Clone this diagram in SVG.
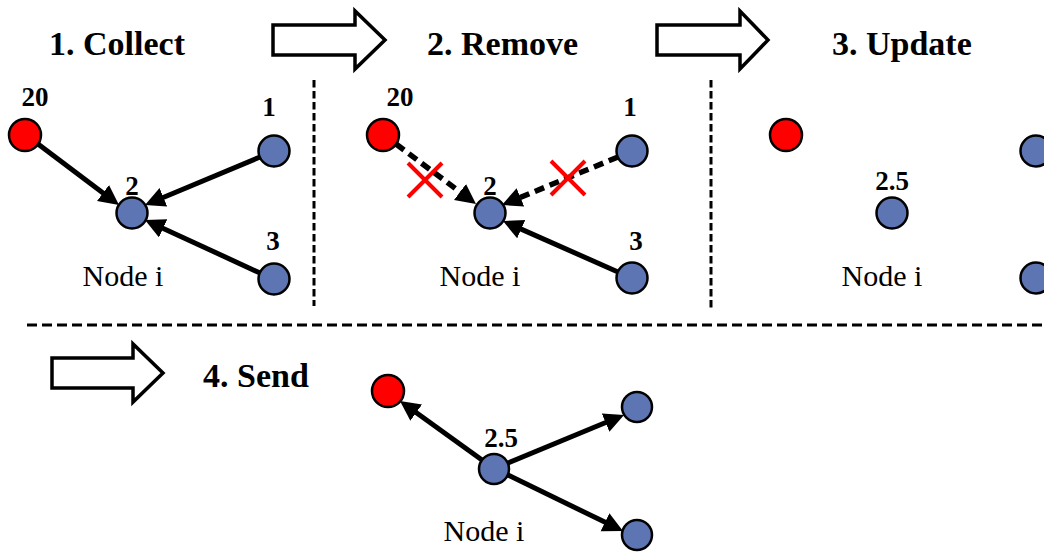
<svg xmlns="http://www.w3.org/2000/svg" width="1044" height="552" viewBox="0 0 1044 552">
  <style>
    text { font-family: "Liberation Serif", "Tinos", "Times New Roman", "DejaVu Serif", serif; fill: #000; }
    .title { font-size: 34px; font-weight: bold; }
    .num { font-size: 27px; font-weight: bold; text-anchor: middle; }
    .cap { font-size: 30px; text-anchor: middle; }
    .red { fill: #FF0000; stroke: #000; stroke-width: 2.5; }
    .blue { fill: #5E75B3; stroke: #000; stroke-width: 2.5; }
    .edge { stroke: #000; stroke-width: 5; fill: none; marker-end: url(#head); }
    .edge.dash { stroke-width: 5.5; stroke-dasharray: 10 6; }
    .sep { stroke: #000; stroke-width: 3; fill: none; }
    .block { fill: #fff; stroke: #000; stroke-width: 3.5; stroke-linejoin: miter; }
    .cross { stroke: #FF0000; stroke-width: 4; fill: none; }
  </style>
  <defs>
    <marker id="head" markerUnits="userSpaceOnUse" markerWidth="22" markerHeight="22" refX="10" refY="10" orient="auto">
      <path d="M0,0 L20,10 L0,20 z" fill="#000"/>
    </marker>
  </defs>

  <rect width="1044" height="552" fill="#fff"/>

  <!-- section separators -->
  <g id="separators">
    <line class="sep" x1="314" y1="80" x2="314" y2="306" stroke-dasharray="7.5 3.5"/>
    <line class="sep" x1="711" y1="80" x2="711" y2="308" stroke-dasharray="7.5 3.5"/>
    <line class="sep" x1="27" y1="325" x2="1044" y2="325" stroke-width="3.5" stroke-dasharray="10 5"/>
  </g>

  <!-- step arrows -->
  <g id="step-arrows">
    <polygon class="block" points="273,25 355,25 355,11 385,40 355,69 355,55 273,55"/>
    <polygon class="block" points="657,25 740,25 740,11 768,40 740,69 740,55 657,55"/>
    <polygon class="block" points="52,358 133,358 133,344 163,373 133,402 133,388 52,388"/>
  </g>

  <!-- step titles -->
  <g id="titles">
    <text class="title" x="49" y="55">1. Collect</text>
    <text class="title" x="427" y="55">2. Remove</text>
    <text class="title" x="832" y="55">3. Update</text>
    <text class="title" x="203" y="387">4. Send</text>
  </g>

  <!-- connectors -->
  <g id="connectors">
    <!-- collect -->
    <line class="edge" x1="38" y1="144" x2="111" y2="199"/>
    <line class="edge" x1="260" y1="157" x2="154.2" y2="201.2"/>
    <line class="edge" x1="260" y1="273" x2="154.1" y2="224.2"/>
    <!-- remove -->
    <line class="edge dash" x1="396" y1="144" x2="468" y2="198"/>
    <line class="edge dash" x1="618" y1="157" x2="511.2" y2="201.2"/>
    <line class="edge" x1="618" y1="272" x2="512.1" y2="225.1"/>
    <!-- send -->
    <line class="edge" x1="482" y1="460" x2="408.1" y2="406.8"/>
    <line class="edge" x1="508" y1="463" x2="614.8" y2="418.8"/>
    <line class="edge" x1="508" y1="475" x2="614" y2="526.6"/>
  </g>

  <!-- removed-edge marks -->
  <g id="crosses">
    <path class="cross" d="M408,163 L442,197 M442,163 L408,197"/>
    <path class="cross" d="M551,161 L585,195 M585,161 L551,195"/>
  </g>

  <!-- step 1 nodes -->
  <g id="c-n20"><circle class="red" cx="25" cy="135" r="16"/><text class="num" x="35" y="106">20</text></g>
  <g id="c-n1"><circle class="blue" cx="274" cy="151" r="15.5"/><text class="num" x="269" y="116">1</text></g>
  <g id="c-ni"><circle class="blue" cx="132" cy="213" r="15.5"/><text class="num" x="132" y="195">2</text><text class="cap" x="123" y="286">Node i</text></g>
  <g id="c-n3"><circle class="blue" cx="274" cy="279" r="15.5"/><text class="num" x="273" y="250">3</text></g>

  <!-- step 2 nodes -->
  <g id="r-n20"><circle class="red" cx="383" cy="135" r="16"/><text class="num" x="400" y="106">20</text></g>
  <g id="r-n1"><circle class="blue" cx="632" cy="151" r="15.5"/><text class="num" x="630" y="116">1</text></g>
  <g id="r-ni"><circle class="blue" cx="490" cy="213" r="15.5"/><text class="num" x="490" y="195">2</text><text class="cap" x="480" y="286">Node i</text></g>
  <g id="r-n3"><circle class="blue" cx="632" cy="278" r="15.5"/><text class="num" x="636" y="250">3</text></g>

  <!-- step 3 nodes -->
  <g id="u-red"><circle class="red" cx="786" cy="135" r="16"/></g>
  <g id="u-ni"><circle class="blue" cx="892" cy="213" r="15.5"/><text class="num" x="892" y="190">2.5</text><text class="cap" x="882" y="286">Node i</text></g>
  <g id="u-top"><circle class="blue" cx="1036" cy="151" r="15.5"/></g>
  <g id="u-bottom"><circle class="blue" cx="1036" cy="278" r="15.5"/></g>

  <!-- step 4 nodes -->
  <g id="s-red"><circle class="red" cx="388" cy="391" r="16"/></g>
  <g id="s-ni"><circle class="blue" cx="494" cy="469" r="15"/><text class="num" x="501" y="447">2.5</text><text class="cap" x="484" y="541">Node i</text></g>
  <g id="s-top"><circle class="blue" cx="637" cy="407" r="15"/></g>
  <g id="s-bottom"><circle class="blue" cx="637" cy="535" r="15"/></g>
</svg>
